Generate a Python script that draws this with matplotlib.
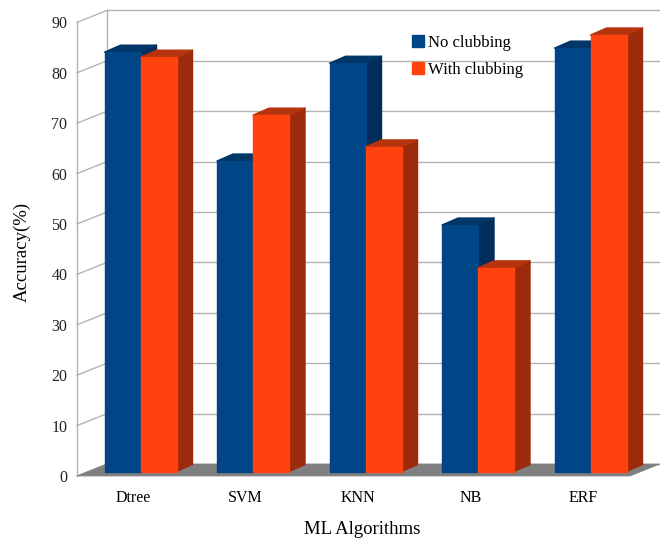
import matplotlib.pyplot as plt
from matplotlib.patches import Polygon
from matplotlib.lines import Line2D

algorithms = ["Dtree", "SVM", "KNN", "NB", "ERF"]
no_clubbing = [83.2, 61.6, 81.0, 48.9, 84.0]
with_clubbing = [82.2, 70.7, 64.4, 40.4, 86.6]
yticks = list(range(0, 100, 10))
series_names = ["No clubbing", "With clubbing"]

# colours: front, side, top
blue = ("#004586", "#002d59", "#003668")
orange = ("#ff420e", "#9c2a0b", "#b5330d")

W, H = 660, 542
fig = plt.figure(figsize=(6.6, 5.42), dpi=100)

# front plane of the chart box in pixels
left_px, right_px, bottom_px, top_px = 77, 660, 476, 10
cat0_px, cat_step_px, unit_px = 133, 112.5, 5.04
ax = fig.add_axes([left_px / W, (H - bottom_px) / H,
                   (right_px - left_px) / W, (bottom_px - top_px) / H])
xmin = (left_px - cat0_px) / cat_step_px
xmax = (right_px - cat0_px) / cat_step_px
ax.set_xlim(xmin, xmax)
ax.set_ylim(0, (bottom_px - top_px) / unit_px)
for s in ax.spines.values():
    s.set_visible(False)

# depth of the box (front -> back wall)
dx = 30 / cat_step_px
dy = 12 / unit_px
grid_c = "#b3b3b3"

# back wall grid + diagonals + front axis line
for v in yticks:
    ax.plot([xmin + dx, xmax], [v + dy, v + dy], color=grid_c, lw=1, zorder=1, clip_on=False)
    ax.plot([xmin, xmin + dx], [v, v + dy], color=grid_c, lw=1, zorder=1, clip_on=False)
ax.plot([xmin + dx, xmin + dx], [dy, yticks[-1] + dy], color=grid_c, lw=1, zorder=1, clip_on=False)
ax.plot([xmin, xmin], [0, yticks[-1]], color=grid_c, lw=1, zorder=1, clip_on=False)

# floor
floor = Polygon([(xmin, 0), (xmax - dx, 0), (xmax, dy), (xmin + dx, dy)],
                closed=True, facecolor="#808080", edgecolor="#808080", lw=0.5,
                zorder=2, clip_on=False)
ax.add_patch(floor)

# bars
bw = 36 / cat_step_px
shift_x = 7.5 / cat_step_px
shift_y = 4.5 / unit_px
bdx = 16 / cat_step_px
bdy = 7 / unit_px
z = 3
for i in range(len(algorithms)):
    for vals, cols, off in [(no_clubbing, blue, -bw), (with_clubbing, orange, 0.0)]:
        v = vals[i]
        xl = i + off + shift_x
        xr = xl + bw
        yb = shift_y
        yt = v + shift_y
        side = Polygon([(xr, yb), (xr + bdx, yb + bdy), (xr + bdx, yt + bdy), (xr, yt)],
                       closed=True, facecolor=cols[1], edgecolor=cols[1], lw=1,
                       joinstyle="round", zorder=z)
        top = Polygon([(xl, yt), (xl + bdx, yt + bdy), (xr + bdx, yt + bdy), (xr, yt)],
                      closed=True, facecolor=cols[2], edgecolor=cols[2], lw=1,
                      joinstyle="round", zorder=z)
        ax.add_patch(side)
        ax.add_patch(top)
        ax.bar(xl, v, width=bw, bottom=yb, align="edge", color=cols[0],
               edgecolor=cols[0], lw=1, joinstyle="round", zorder=z + 0.5)
        z += 1

# ticks
ax.set_yticks(yticks)
ax.set_yticklabels([str(t) for t in yticks], fontsize=11.5, family="Liberation Serif", color="#222222")
ax.set_xticks(range(len(algorithms)))
ax.set_xticklabels(algorithms, fontsize=11.5, family="Liberation Serif")
ax.tick_params(axis="y", length=0, pad=7)
ax.tick_params(axis="x", length=0, pad=10)

fig.text(362 / W, 1 - 530 / H, "ML Algorithms", ha="center", va="center",
         fontsize=13.5, family="Liberation Serif")
fig.text(22 / W, 1 - 252 / H, "Accuracy(%)", ha="center", va="center", rotation=90,
         fontsize=13.5, family="Liberation Serif")

handles = [Line2D([], [], marker="s", ls="none", markersize=9, color=blue[0]),
           Line2D([], [], marker="s", ls="none", markersize=9, color=orange[0])]
fig.legend(handles, series_names, loc="upper left", bbox_to_anchor=(410 / W, 1 - 35 / H),
           frameon=False, handletextpad=0.1, handlelength=1.0, labelspacing=0.65,
           borderaxespad=0, borderpad=0,
           prop={"family": "Liberation Serif", "size": 12})

fig.savefig("out.png", dpi=100)
